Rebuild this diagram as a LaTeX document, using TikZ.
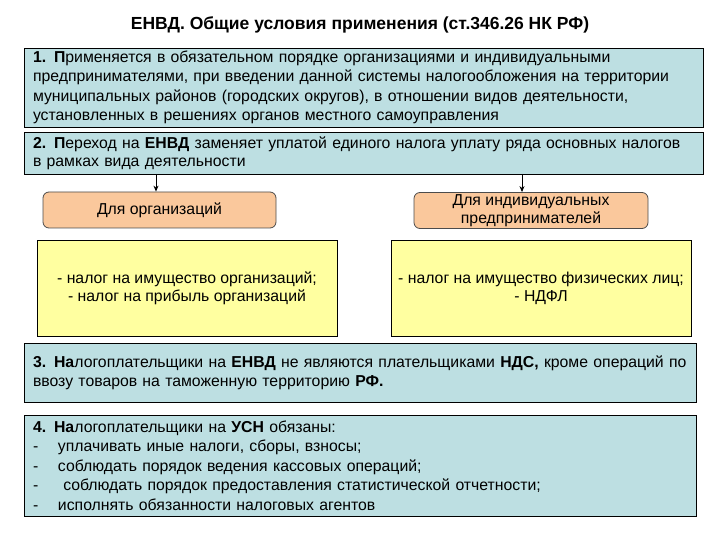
\documentclass[tikz,border=0pt]{standalone}
\usepackage{fontspec}
\setmainfont{Liberation Sans}
\usetikzlibrary{arrows.meta}
\definecolor{tealbox}{RGB}{189,223,226}
\definecolor{orangebox}{RGB}{250,200,156}
\definecolor{yellowbox}{RGB}{255,255,160}
\newcommand{\dashitem}[1]{\makebox[25pt][l]{-}#1}
\begin{document}
\begin{tikzpicture}[x=1pt,y=-1pt,
  every node/.style={font=\fontsize{15.8}{19.4}\selectfont, inner sep=0pt},
  tealrect/.style={draw=black, line width=0.9pt, fill=tealbox, minimum width=#1, align=left, text width=#1-18pt},
  orangerect/.style={draw=black!70, line width=0.8pt, fill=orangebox, rounded corners=6pt, align=center, minimum width=#1, minimum height=36pt},
  yellowrect/.style={draw=black, line width=0.9pt, fill=yellowbox, align=center, minimum width=300pt, minimum height=96pt},
  arr/.style={-{Stealth[length=6pt,width=5pt]}, line width=1pt}]
\useasboundingbox (0,0) rectangle (720,540);
\node[font=\fontsize{17.5}{20}\selectfont\bfseries] (title) at (360,25) {ЕНВД. Общие условия применения (ст.346.26 НК РФ)};
\node[tealrect=679pt, minimum height=79pt] (b1) at (363.5,87.5) {\textbf{1.} \textbf{П}рименяется в обязательном порядке организациями и индивидуальными\\
предпринимателями, при введении данной системы налогообложения на территории\\
муниципальных районов (городских округов), в отношении видов деятельности,\\
установленных в решениях органов местного самоуправления};
\node[tealrect=679pt, minimum height=42pt, font=\fontsize{15.8}{18}\selectfont] (b2) at (363.5,153) {\textbf{2.} \textbf{П}ереход на \textbf{ЕНВД} заменяет уплатой единого налога уплату ряда основных налогов\\
в рамках вида деятельности};
\node[orangerect=233pt] (oL) at (159.5,210) {Для организаций};
\node[orangerect=234pt, font=\fontsize{15.8}{18}\selectfont] (oR) at (531,210.5) {Для индивидуальных\\предпринимателей};
\node[yellowrect, font=\fontsize{15.8}{18}\selectfont] (yL) at (187,288) {- налог на имущество организаций;\\- налог на прибыль организаций};
\node[yellowrect, font=\fontsize{15.8}{18}\selectfont] (yR) at (541,288) {- налог на имущество физических лиц;\\- НДФЛ};
\node[tealrect=672pt, minimum height=59pt] (b3) at (360,372.5) {\textbf{3.} \textbf{На}логоплательщики на \textbf{ЕНВД} не являются плательщиками \textbf{НДС,} кроме операций по\\
ввозу товаров на таможенную территорию \textbf{РФ.}};
\node[tealrect=672pt, minimum height=101pt] (b4) at (360,465.5) {\textbf{4.} \textbf{На}логоплательщики на \textbf{УСН} обязаны:\\
\dashitem{уплачивать иные налоги, сборы, взносы;}\\
\dashitem{соблюдать порядок ведения кассовых операций;}\\
\dashitem{\ соблюдать порядок предоставления статистической отчетности;}\\
\dashitem{исполнять обязанности налоговых агентов}};
\coordinate (aL) at (156,174);
\coordinate (aR) at (522,174);
\draw[arr] (aL) -- (aL |- oL.north);
\draw[arr] (aR) -- (aR |- oR.north);
\end{tikzpicture}
\end{document}
